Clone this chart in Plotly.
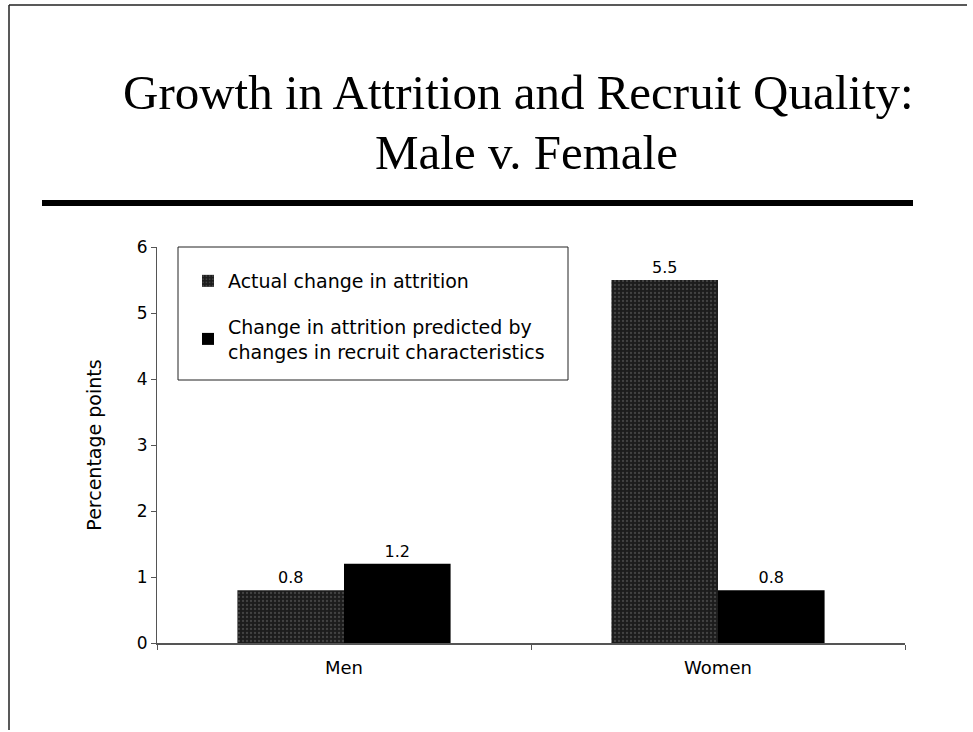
import plotly.graph_objects as go

categories = ["Men", "Women"]
actual_change = [0.8, 5.5]
predicted_change = [1.2, 0.8]
series_names = [
    "Actual change in attrition",
    "Change in attrition predicted by<br>changes in recruit characteristics",
]
y_ticks = [0, 1, 2, 3, 4, 5, 6]

W, H = 973, 732
X0, X1, Y0, Y1 = 157, 905, 247, 643  # plot area in pixels
ML, MR, MT, MB = X0, W - X1, Y0, H - Y1
PW = X1 - X0
PH = Y1 - Y0

def px(x):
    return (x - X0) / PW

def py(y):
    return (Y1 - y) / PH

FONT = "DejaVu Sans"

fig = go.Figure()
fig.add_trace(go.Bar(
    x=categories, y=actual_change, name=series_names[0], legendgroup="a",
    marker=dict(color="#1c1c1c", line=dict(width=0),
                pattern=dict(shape=".", fgcolor="#6a6a6a", bgcolor="#1c1c1c", size=4, solidity=0.25)),
    text=[f"{v:.1f}" for v in actual_change], textposition="outside",
    textfont=dict(family=FONT, size=16, color="black"),
    cliponaxis=False,
))
fig.add_trace(go.Bar(
    x=categories, y=predicted_change, name=series_names[1], legendgroup="b",
    marker=dict(color="#000000", line=dict(width=0)),
    text=[f"{v:.1f}" for v in predicted_change], textposition="outside",
    textfont=dict(family=FONT, size=16, color="black"),
    cliponaxis=False,
))

shapes = [
    # slide frame (top and left)
    dict(type="line", xref="paper", yref="paper", x0=px(9), x1=px(967), y0=py(5), y1=py(5),
         line=dict(color="#222", width=1.5)),
    dict(type="line", xref="paper", yref="paper", x0=px(9), x1=px(9), y0=py(5), y1=py(730),
         line=dict(color="#222", width=1.5)),
    # thick rule below title
    dict(type="line", xref="paper", yref="paper", x0=px(42), x1=px(913), y0=py(203), y1=py(203),
         line=dict(color="black", width=6)),
    # legend box
    dict(type="rect", xref="paper", yref="paper", x0=px(178), x1=px(568), y0=py(380), y1=py(247),
         line=dict(color="#222", width=1), fillcolor="rgba(0,0,0,0)"),
]

annotations = [
    dict(text="Growth in Attrition and Recruit Quality:", xref="paper", yref="paper",
         x=px(518), y=py(92), xanchor="center", yanchor="middle", showarrow=False,
         font=dict(family="Liberation Serif", size=49, color="black")),
    dict(text="Male v. Female", xref="paper", yref="paper",
         x=px(526), y=py(152), xanchor="center", yanchor="middle", showarrow=False,
         font=dict(family="Liberation Serif", size=49, color="black")),
]

fig.update_layout(
    width=W, height=H,
    margin=dict(l=ML, r=MR, t=MT, b=MB),
    paper_bgcolor="white", plot_bgcolor="white",
    barmode="group", bargap=0.43, bargroupgap=0,
    font=dict(family=FONT, size=17, color="black"),
    showlegend=True,
    legend=dict(x=px(188), y=py(262), xanchor="left", yanchor="top",
                bgcolor="rgba(0,0,0,0)", borderwidth=0,
                font=dict(family=FONT, size=19, color="black"),
                traceorder="grouped", tracegroupgap=18, itemwidth=30),
    shapes=shapes,
    annotations=annotations,
    xaxis=dict(showline=True, linecolor="#555", linewidth=1.5, ticks="outside",
               tickson="boundaries", ticklen=5, tickcolor="#555", showgrid=False,
               tickfont=dict(size=18), ticklabelstandoff=8),
    yaxis=dict(range=[0, 6], tickvals=y_ticks, showline=True, linecolor="#555", linewidth=1,
               ticks="outside", ticklen=5, tickcolor="#555", showgrid=False, zeroline=False,
               tickfont=dict(size=17),
               title=dict(text="Percentage points", font=dict(size=19), standoff=30)),
)

fig.write_html(
    "out.html",
    config={"displayModeBar": False},
    post_script="document.body.style.margin='0';document.body.style.overflow='hidden';",
)
